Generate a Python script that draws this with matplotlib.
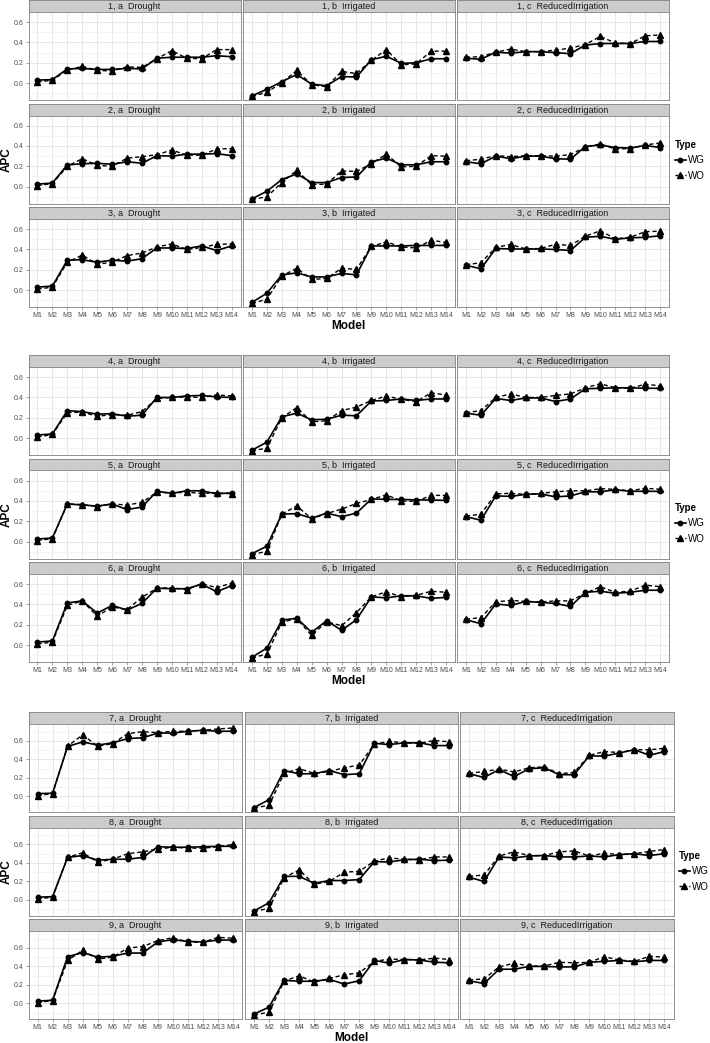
import numpy as np
import matplotlib.pyplot as plt
from matplotlib import font_manager
from matplotlib.lines import Line2D

# APC per model, one row per simulation (1..9), columns M1..M14
models = ["M%d" % i for i in range(1, 15)]
scenarios = ["Drought", "Irrigated", "ReducedIrrigation"]
letters = ["a", "b", "c"]

wg_drought = [
    [0.03, 0.035, 0.14, 0.145, 0.135, 0.135, 0.145, 0.14, 0.245, 0.255, 0.255, 0.255, 0.27, 0.26],
    [0.025, 0.035, 0.215, 0.225, 0.23, 0.22, 0.245, 0.23, 0.305, 0.30, 0.32, 0.32, 0.325, 0.305],
    [0.03, 0.04, 0.295, 0.30, 0.275, 0.295, 0.285, 0.31, 0.415, 0.415, 0.41, 0.435, 0.39, 0.435],
    [0.03, 0.04, 0.27, 0.26, 0.235, 0.24, 0.215, 0.225, 0.40, 0.40, 0.415, 0.42, 0.405, 0.40],
    [0.025, 0.035, 0.37, 0.36, 0.35, 0.37, 0.315, 0.34, 0.495, 0.475, 0.50, 0.50, 0.47, 0.48],
    [0.03, 0.04, 0.415, 0.435, 0.315, 0.39, 0.345, 0.41, 0.56, 0.555, 0.555, 0.60, 0.525, 0.585],
    [0.03, 0.035, 0.54, 0.59, 0.555, 0.58, 0.625, 0.635, 0.685, 0.685, 0.705, 0.715, 0.705, 0.705],
    [0.03, 0.035, 0.46, 0.48, 0.43, 0.44, 0.44, 0.46, 0.575, 0.57, 0.57, 0.575, 0.58, 0.58],
    [0.025, 0.035, 0.505, 0.55, 0.50, 0.51, 0.545, 0.545, 0.665, 0.69, 0.67, 0.665, 0.685, 0.685],
]
wo_drought = [
    [0.01, 0.03, 0.13, 0.165, 0.125, 0.12, 0.16, 0.155, 0.24, 0.32, 0.245, 0.24, 0.33, 0.33],
    [0.01, 0.03, 0.20, 0.275, 0.21, 0.20, 0.28, 0.295, 0.315, 0.36, 0.31, 0.31, 0.37, 0.375],
    [0.01, 0.03, 0.275, 0.345, 0.255, 0.275, 0.34, 0.365, 0.425, 0.455, 0.40, 0.42, 0.45, 0.455],
    [0.01, 0.035, 0.25, 0.255, 0.215, 0.23, 0.225, 0.26, 0.39, 0.40, 0.405, 0.40, 0.425, 0.415],
    [0.01, 0.03, 0.37, 0.365, 0.345, 0.37, 0.36, 0.385, 0.485, 0.48, 0.485, 0.475, 0.48, 0.47],
    [0.01, 0.03, 0.39, 0.435, 0.285, 0.375, 0.35, 0.47, 0.56, 0.565, 0.545, 0.605, 0.565, 0.61],
    [0.01, 0.03, 0.545, 0.665, 0.545, 0.57, 0.68, 0.70, 0.69, 0.705, 0.705, 0.715, 0.73, 0.74],
    [0.01, 0.03, 0.46, 0.51, 0.41, 0.44, 0.50, 0.52, 0.55, 0.57, 0.56, 0.56, 0.575, 0.60],
    [0.01, 0.03, 0.465, 0.575, 0.48, 0.50, 0.60, 0.615, 0.68, 0.71, 0.665, 0.66, 0.715, 0.705],
]
wg_irrigated = [
    [-0.125, -0.06, 0.015, 0.085, -0.01, -0.025, 0.065, 0.06, 0.23, 0.265, 0.195, 0.20, 0.24, 0.24],
    [-0.12, -0.045, 0.07, 0.125, 0.04, 0.04, 0.09, 0.095, 0.245, 0.28, 0.215, 0.215, 0.245, 0.245],
    [-0.12, -0.03, 0.15, 0.17, 0.13, 0.13, 0.165, 0.15, 0.435, 0.435, 0.435, 0.44, 0.44, 0.44],
    [-0.12, -0.04, 0.21, 0.245, 0.18, 0.185, 0.225, 0.22, 0.365, 0.37, 0.385, 0.37, 0.385, 0.385],
    [-0.12, -0.045, 0.27, 0.275, 0.23, 0.28, 0.245, 0.28, 0.42, 0.415, 0.415, 0.41, 0.41, 0.405],
    [-0.12, -0.03, 0.245, 0.265, 0.125, 0.24, 0.145, 0.25, 0.475, 0.465, 0.485, 0.485, 0.46, 0.47],
    [-0.12, -0.035, 0.28, 0.245, 0.245, 0.28, 0.235, 0.245, 0.575, 0.56, 0.58, 0.58, 0.55, 0.55],
    [-0.12, -0.03, 0.255, 0.255, 0.18, 0.21, 0.21, 0.22, 0.415, 0.41, 0.435, 0.44, 0.425, 0.43],
    [-0.115, -0.04, 0.25, 0.24, 0.24, 0.26, 0.21, 0.245, 0.465, 0.435, 0.475, 0.47, 0.445, 0.44],
]
wo_irrigated = [
    [-0.13, -0.09, 0.005, 0.125, -0.015, -0.035, 0.115, 0.095, 0.225, 0.33, 0.18, 0.19, 0.315, 0.315],
    [-0.125, -0.10, 0.04, 0.16, 0.02, 0.025, 0.155, 0.15, 0.225, 0.32, 0.195, 0.20, 0.305, 0.30],
    [-0.13, -0.09, 0.14, 0.215, 0.105, 0.115, 0.215, 0.205, 0.43, 0.475, 0.425, 0.415, 0.49, 0.47],
    [-0.125, -0.10, 0.20, 0.30, 0.16, 0.17, 0.27, 0.305, 0.37, 0.415, 0.38, 0.36, 0.445, 0.425],
    [-0.13, -0.095, 0.27, 0.35, 0.225, 0.275, 0.32, 0.375, 0.415, 0.46, 0.40, 0.395, 0.455, 0.455],
    [-0.125, -0.09, 0.225, 0.26, 0.095, 0.23, 0.19, 0.32, 0.475, 0.525, 0.475, 0.49, 0.53, 0.52],
    [-0.125, -0.095, 0.25, 0.30, 0.25, 0.27, 0.31, 0.34, 0.565, 0.595, 0.58, 0.575, 0.605, 0.59],
    [-0.125, -0.09, 0.24, 0.325, 0.17, 0.20, 0.30, 0.31, 0.42, 0.455, 0.44, 0.435, 0.465, 0.465],
    [-0.125, -0.095, 0.24, 0.30, 0.23, 0.27, 0.31, 0.33, 0.455, 0.48, 0.475, 0.47, 0.49, 0.475],
]
wg_reduced = [
    [0.245, 0.235, 0.305, 0.295, 0.31, 0.31, 0.30, 0.29, 0.375, 0.39, 0.39, 0.39, 0.41, 0.41],
    [0.245, 0.225, 0.30, 0.275, 0.30, 0.30, 0.275, 0.27, 0.395, 0.41, 0.385, 0.38, 0.405, 0.385],
    [0.245, 0.21, 0.41, 0.405, 0.405, 0.405, 0.40, 0.39, 0.52, 0.53, 0.50, 0.515, 0.52, 0.535],
    [0.245, 0.225, 0.39, 0.37, 0.395, 0.395, 0.36, 0.385, 0.485, 0.49, 0.495, 0.495, 0.49, 0.49],
    [0.245, 0.21, 0.45, 0.445, 0.465, 0.47, 0.44, 0.45, 0.49, 0.49, 0.51, 0.495, 0.495, 0.495],
    [0.25, 0.21, 0.405, 0.39, 0.43, 0.42, 0.41, 0.38, 0.52, 0.53, 0.51, 0.52, 0.54, 0.54],
    [0.245, 0.205, 0.29, 0.215, 0.30, 0.31, 0.235, 0.235, 0.44, 0.435, 0.47, 0.505, 0.445, 0.485],
    [0.245, 0.20, 0.465, 0.455, 0.475, 0.48, 0.465, 0.465, 0.475, 0.465, 0.49, 0.50, 0.48, 0.50],
    [0.245, 0.215, 0.37, 0.37, 0.40, 0.40, 0.395, 0.395, 0.445, 0.455, 0.465, 0.45, 0.465, 0.465],
]
wo_reduced = [
    [0.255, 0.26, 0.305, 0.335, 0.31, 0.31, 0.325, 0.345, 0.38, 0.46, 0.395, 0.39, 0.465, 0.475],
    [0.255, 0.27, 0.305, 0.295, 0.305, 0.305, 0.30, 0.315, 0.39, 0.42, 0.37, 0.375, 0.41, 0.43],
    [0.25, 0.27, 0.42, 0.45, 0.405, 0.41, 0.45, 0.44, 0.53, 0.585, 0.505, 0.52, 0.575, 0.58],
    [0.25, 0.27, 0.40, 0.435, 0.40, 0.40, 0.42, 0.435, 0.495, 0.535, 0.495, 0.49, 0.53, 0.515],
    [0.25, 0.27, 0.47, 0.475, 0.465, 0.475, 0.49, 0.50, 0.50, 0.52, 0.515, 0.50, 0.525, 0.515],
    [0.255, 0.27, 0.425, 0.44, 0.43, 0.425, 0.435, 0.435, 0.51, 0.575, 0.52, 0.53, 0.59, 0.575],
    [0.25, 0.27, 0.295, 0.265, 0.31, 0.32, 0.245, 0.26, 0.445, 0.485, 0.475, 0.505, 0.505, 0.52],
    [0.255, 0.27, 0.475, 0.52, 0.48, 0.48, 0.52, 0.53, 0.475, 0.505, 0.49, 0.50, 0.525, 0.545],
    [0.255, 0.265, 0.395, 0.435, 0.405, 0.405, 0.445, 0.44, 0.445, 0.505, 0.47, 0.455, 0.51, 0.50],
]

wg = [wg_drought, wg_irrigated, wg_reduced]
wo = [wo_drought, wo_irrigated, wo_reduced]

names = {f.name for f in font_manager.fontManager.ttflist}
if "Liberation Sans Narrow" in names:
    plt.rcParams["font.family"] = "Liberation Sans Narrow"
else:
    plt.rcParams["font.family"] = "Liberation Sans"

W, H = 710, 1043
fig = plt.figure(figsize=(W / 100, H / 100), dpi=100)


def box(x0, y0, w, h):
    # pixel box (top-left origin) -> figure fraction
    return [x0 / W, 1 - (y0 + h) / H, w / W, h / H]


grey50 = "#7F7F7F"
block_top = [0, 355, 712]
col_x = [[28.5, 243, 457], [28.5, 243, 457], [28.5, 245, 460]]
col_w = [212, 212, 213.5]
strip_h = 12
plot_h = 88
pitch = 103.5
legend_top = [140, 503, 851]
legend_x = [675, 675, 679]

x = np.arange(1, 15)

for b in range(3):
    rows = range(3 * b, 3 * b + 3)
    vals = np.array([wg[c][r] + wo[c][r] for c in range(3) for r in rows])
    lo, hi = vals.min(), vals.max()
    pad = 0.05 * (hi - lo)
    for i, r in enumerate(rows):
        top = block_top[b] + i * pitch
        for c in range(3):
            x0 = col_x[b][c]
            sax = fig.add_axes(box(x0, top, col_w[b], strip_h))
            sax.set_facecolor("#CCCCCC")
            sax.set_xticks([])
            sax.set_yticks([])
            for s in sax.spines.values():
                s.set_color(grey50)
                s.set_linewidth(0.6)
            sax.text(0.5, 0.45, "%d, %s  %s" % (r + 1, letters[c], scenarios[c]),
                     ha="center", va="center", fontsize=6.5, color="#1A1A1A",
                     transform=sax.transAxes)

            ax = fig.add_axes(box(x0, top + strip_h, col_w[b], plot_h))
            ax.plot(x, wg[c][r], color="black", lw=1.2, marker="o", ms=3.2)
            ax.plot(x, wo[c][r], color="black", lw=1.0, ls=(0, (3, 2)),
                    marker="^", ms=3.8)
            ax.set_xlim(0.4, 14.6)
            ax.set_ylim(lo - pad, hi + pad)
            ax.set_xticks(x)
            ax.set_xticklabels(models)
            ax.set_yticks([0.0, 0.2, 0.4, 0.6])
            ax.set_yticklabels(["0.0", "0.2", "0.4", "0.6"])
            ax.set_yticks([-0.1, 0.1, 0.3, 0.5, 0.7], minor=True)
            ax.set_axisbelow(True)
            ax.grid(which="major", color="#E3E3E3", lw=0.6)
            ax.grid(which="minor", axis="y", color="#F3F3F3", lw=0.8)
            ax.tick_params(which="major", length=2, width=0.5, color=grey50,
                           labelsize=5, labelcolor="#4D4D4D", pad=1.5)
            ax.tick_params(which="minor", length=0)
            for s in ax.spines.values():
                s.set_color(grey50)
                s.set_linewidth(0.6)
            if c != 0:
                ax.tick_params(axis="y", left=False, labelleft=False)
            if i != 2:
                ax.tick_params(axis="x", bottom=False, labelbottom=False)

    y_first = block_top[b] + strip_h
    y_last = block_top[b] + 2 * pitch + strip_h + plot_h
    fig.text(7 / W, 1 - (y_first + y_last) / 2 / H, "APC", rotation=90,
             ha="center", va="center", fontsize=8.5, fontweight="bold")
    xc = (col_x[b][0] + col_x[b][2] + col_w[b]) / 2
    fig.text(xc / W, 1 - (y_last + 19) / H, "Model", ha="center",
             va="center", fontsize=8.5, fontweight="bold")

    handles = [
        Line2D([0], [0], color="black", lw=1.2, marker="o", ms=3.2),
        Line2D([0], [0], color="black", lw=1.0, ls=(0, (2, 1.5)), marker="^", ms=3.8),
    ]
    leg = fig.legend(handles, ["WG", "WO"], title="Type", loc="upper left",
                     bbox_to_anchor=(legend_x[b] / W, 1 - legend_top[b] / H),
                     frameon=False, fontsize=7, handlelength=1.1,
                     handletextpad=0.25, borderpad=0, borderaxespad=0,
                     labelspacing=0.55, alignment="left",
                     title_fontproperties={"weight": "bold", "size": 7})

fig.savefig("out.png", dpi=100)
